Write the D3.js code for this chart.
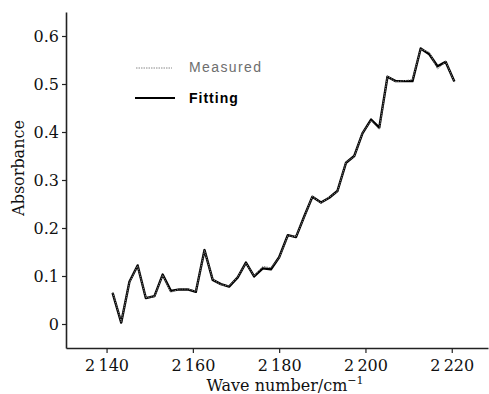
<!DOCTYPE html>
<html>
<head>
<meta charset="utf-8">
<script src="https://cdn.jsdelivr.net/npm/d3@7"></script>
<style>
  body { margin: 0; background: #fff; }
  svg { display: block; }
</style>
</head>
<body>
<svg id="chart"></svg>
<script>
// wave numbers (cm^-1)
let waveNumbers = [2141.4, 2143.4, 2145.3, 2147.2, 2149.1, 2151.1, 2153.0, 2154.9, 2156.9, 2158.8,
                   2160.7, 2162.7, 2164.6, 2166.5, 2168.4, 2170.4, 2172.3, 2174.2, 2176.2, 2178.1,
                   2180.0, 2182.0, 2183.9, 2185.8, 2187.7, 2189.7, 2191.6, 2193.5, 2195.5, 2197.4,
                   2199.3, 2201.3, 2203.2, 2205.1, 2207.0, 2209.0, 2210.9, 2212.8, 2214.8, 2216.7,
                   2218.6, 2220.6]

let fitting = [0.065, 0.003, 0.088, 0.122, 0.054, 0.058, 0.103, 0.069, 0.072, 0.072,
               0.067, 0.154, 0.092, 0.083, 0.078, 0.097, 0.128, 0.099, 0.116, 0.114,
               0.139, 0.185, 0.181, 0.224, 0.265, 0.253, 0.263, 0.277, 0.336, 0.350,
               0.397, 0.426, 0.409, 0.515, 0.506, 0.506, 0.506, 0.574, 0.562, 0.537,
               0.546, 0.505]

let measured = [0.066, 0.004, 0.087, 0.121, 0.055, 0.057, 0.102, 0.066, 0.073, 0.073,
                0.068, 0.153, 0.093, 0.082, 0.079, 0.098, 0.127, 0.100, 0.120, 0.117,
                0.138, 0.184, 0.182, 0.223, 0.266, 0.252, 0.264, 0.276, 0.337, 0.349,
                0.398, 0.424, 0.405, 0.516, 0.505, 0.507, 0.509, 0.573, 0.566, 0.531,
                0.547, 0.504]

let xTicks = [2140, 2160, 2180, 2200, 2220]
let yTicks = [0, 0.1, 0.2, 0.3, 0.4, 0.5, 0.6]

let width = 489
let height = 394
let margin = {top: 12, right: 1, bottom: 46, left: 66}

let svg = d3.select('#chart')
    .attr('width', width)
    .attr('height', height)

let xScale = d3.scaleLinear()
    .domain([2130.6, 2228.4])
    .range([margin.left, width - margin.right])

let yScale = d3.scaleLinear()
    .domain([-0.05, 0.65])
    .range([height - margin.bottom, margin.top])

let serif = '"DejaVu Serif", serif'

// axes
let xAxis = d3.axisBottom(xScale)
    .tickValues(xTicks)
    .tickSize(5)
    .tickSizeOuter(0)
    .tickFormat(d => d3.format('d')(d).replace(/^(\d)(\d{3})$/, '$1\u2009$2'))

let yAxis = d3.axisLeft(yScale)
    .tickValues(yTicks)
    .tickSize(4)
    .tickSizeOuter(0)
    .tickFormat(d => d === 0 ? '0' : d3.format('.1f')(d))

let gx = svg.append('g')
    .attr('transform', 'translate(0,' + (height - margin.bottom) + ')')
    .call(xAxis)
gx.select('.domain').attr('stroke', '#222').attr('stroke-width', 1.6)
gx.selectAll('.tick line').attr('stroke', '#222').attr('stroke-width', 1.2)
gx.selectAll('.tick text')
    .attr('font-family', serif)
    .attr('font-size', 16)
    .attr('fill', '#111')
    .attr('dy', '0.95em')

let gy = svg.append('g')
    .attr('transform', 'translate(' + margin.left + ',0)')
    .call(yAxis)
gy.select('.domain').attr('stroke', '#222').attr('stroke-width', 1.6)
gy.selectAll('.tick line').attr('stroke', '#222').attr('stroke-width', 1.2)
gy.selectAll('.tick text')
    .attr('font-family', serif)
    .attr('font-size', 16)
    .attr('fill', '#111')

// axis titles
let xTitle = svg.append('text')
    .attr('x', 285)
    .attr('y', 391)
    .attr('text-anchor', 'middle')
    .attr('font-family', serif)
    .attr('font-size', 16)
    .attr('fill', '#111')
xTitle.append('tspan').text('Wave number/cm')
xTitle.append('tspan').attr('dy', -7).attr('font-size', 11).text('\u22121')

svg.append('text')
    .attr('transform', 'translate(24,' + 168 + ') rotate(-90)')
    .attr('text-anchor', 'middle')
    .attr('font-family', serif)
    .attr('font-size', 16)
    .attr('fill', '#111')
    .text('Absorbance')

// lines
let line = d3.line()
    .x((d, i) => xScale(waveNumbers[i]))
    .y(d => yScale(d))

svg.append('path')
    .datum(fitting)
    .attr('d', line)
    .attr('fill', 'none')
    .attr('stroke', '#000')
    .attr('stroke-width', 2.4)
    .attr('stroke-linejoin', 'round')

svg.append('path')
    .datum(measured)
    .attr('d', line)
    .attr('fill', 'none')
    .attr('stroke', '#777')
    .attr('stroke-width', 1)
    .attr('stroke-dasharray', '1.5,1')

// legend
let legend = svg.append('g')
legend.append('line')
    .attr('x1', 136).attr('x2', 172)
    .attr('y1', 68).attr('y2', 68)
    .attr('stroke', '#888')
    .attr('stroke-width', 1)
    .attr('stroke-dasharray', '1.5,1')
legend.append('text')
    .attr('x', 189).attr('y', 72)
    .attr('font-family', '"Liberation Sans", Arial, sans-serif')
    .attr('font-size', 14)
    .attr('letter-spacing', 1.4)
    .attr('fill', '#6e6e6e')
    .text('Measured')

legend.append('line')
    .attr('x1', 135).attr('x2', 175)
    .attr('y1', 98).attr('y2', 98)
    .attr('stroke', '#000')
    .attr('stroke-width', 2)
legend.append('text')
    .attr('x', 189).attr('y', 103)
    .attr('font-family', '"Liberation Sans", Arial, sans-serif')
    .attr('font-size', 14)
    .attr('font-weight', 'bold')
    .attr('letter-spacing', 1)
    .attr('fill', '#000')
    .text('Fitting')
</script>
</body>
</html>
